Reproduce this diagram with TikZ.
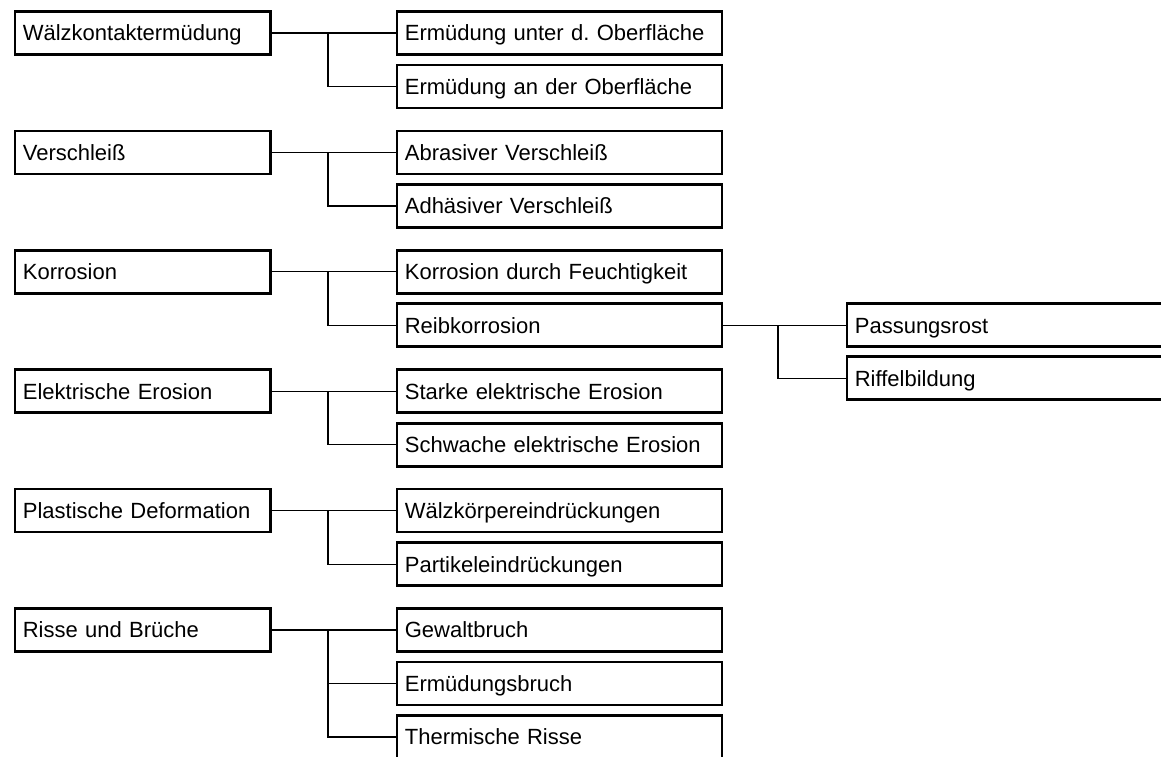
\documentclass[tikz,border=0pt]{standalone}
\usepackage{fontspec}
\setmainfont{Liberation Sans}
\begin{document}
\frenchspacing
\begin{tikzpicture}[x=1pt,y=-1pt,
  box/.style={draw=black, line width=2.7pt, rectangle, inner xsep=8pt, inner ysep=0pt,
    minimum height=43pt, text height=15.8pt, text depth=0pt, align=left,
    anchor=west, font=\fontsize{22}{24}\selectfont},
  lbox/.style={box, text width=239.5pt},
  mbox/.style={box, text width=309pt},
  rbox/.style={box, text width=330pt},
  conn/.style={draw=black, line width=1.2pt}]
\useasboundingbox (0,0) rectangle (1161,756);
\clip (0,0) rectangle (1161,756);
\coordinate (j) at (328,0);
\coordinate (jr) at (778,0);
% group 1
\node[lbox] (l1) at (13.5,33) {Wälzkontaktermüdung};
\node[mbox] (m11) at (395.5,33) {Ermüdung unter d. Oberfläche};
\node[mbox] (m12) at (395.5,86.5) {Ermüdung an der Oberfläche};
% group 2
\node[lbox] (l2) at (13.5,152.4) {Verschleiß};
\node[mbox] (m21) at (395.5,152.4) {Abrasiver Verschleiß};
\node[mbox] (m22) at (395.5,205.9) {Adhäsiver Verschleiß};
% group 3
\node[lbox] (l3) at (13.5,271.8) {Korrosion};
\node[mbox] (m31) at (395.5,271.8) {Korrosion durch Feuchtigkeit};
\node[mbox] (m32) at (395.5,325.3) {Reibkorrosion};
\node[rbox] (r1) at (845.5,325.3) {Passungsrost};
\node[rbox] (r2) at (845.5,378.3) {Riffelbildung};
% group 4
\node[lbox] (l4) at (13.5,391.2) {Elektrische Erosion};
\node[mbox] (m41) at (395.5,391.2) {Starke elektrische Erosion};
\node[mbox] (m42) at (395.5,444.7) {Schwache elektrische Erosion};
% group 5
\node[lbox] (l5) at (13.5,510.6) {Plastische Deformation};
\node[mbox] (m51) at (395.5,510.6) {Wälzkörpereindrückungen};
\node[mbox] (m52) at (395.5,564.1) {Partikeleindrückungen};
% group 6
\node[lbox] (l6) at (13.5,630) {Risse und Brüche};
\node[mbox] (m61) at (395.5,630) {Gewaltbruch};
\node[mbox] (m62) at (395.5,683.5) {Ermüdungsbruch};
\node[mbox] (m63) at (395.5,737) {Thermische Risse};
% connectors
\foreach \g in {1,...,6} {
  \draw[conn] (l\g.east) -- (m\g1.west);
  \draw[conn] (l\g.east -| j) |- (m\g2.west);
}
\draw[conn] (l6.east -| j) |- (m63.west);
\draw[conn] (m32.east) -- (r1.west);
\draw[conn] (m32.east -| jr) |- (r2.west);
\end{tikzpicture}
\end{document}
